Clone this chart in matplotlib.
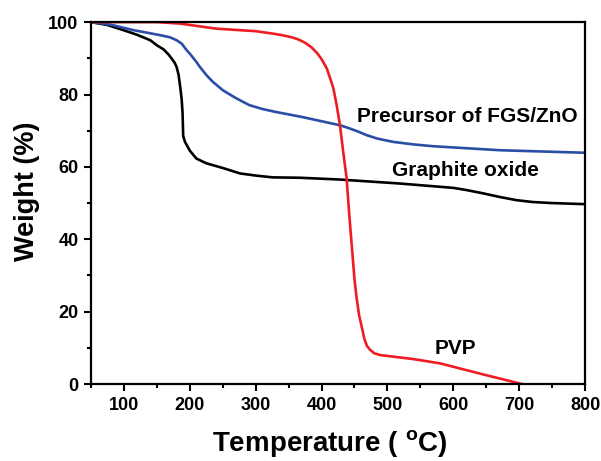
import matplotlib
matplotlib.use("Agg")
import matplotlib.pyplot as plt
from matplotlib.ticker import MultipleLocator

plt.rcParams['font.family'] = ['Liberation Sans', 'DejaVu Sans']
plt.rcParams['font.weight'] = 'bold'
plt.rcParams['mathtext.fontset'] = 'custom'
plt.rcParams['mathtext.rm'] = 'Liberation Sans:bold'
plt.rcParams['mathtext.bf'] = 'Liberation Sans:bold'
plt.rcParams['mathtext.it'] = 'Liberation Sans:bold'

# TGA curves: temperature (°C) vs. remaining weight (%)
go_temp = [50, 75, 99, 120, 140, 150, 160, 168, 173, 177, 180, 183, 185.5, 187.5,
           189, 190, 192.7, 200, 210, 225, 250, 276, 300, 326, 367, 428, 519,
           600, 620, 645, 670, 696, 720, 750, 800]
go_weight = [100, 99.2, 97.8, 96.5, 95, 93.6, 92.5, 91, 89.8, 88.8, 87.6, 85.4, 82,
             79, 75, 68.5, 66.9, 64.5, 62.3, 61, 59.7, 58.2, 57.6, 57.1, 57, 56.5,
             55.4, 54.2, 53.6, 52.7, 51.7, 50.8, 50.3, 50.0, 49.7]

pre_temp = [50, 80, 114, 155, 170, 180, 188, 195, 200, 210, 215, 225, 235, 250,
            270, 290, 310, 330, 370, 428, 440, 455, 468, 485, 509, 540, 570, 671, 800]
pre_weight = [100, 99.3, 97.8, 96.4, 95.8, 95, 94, 92.3, 91.3, 89, 87.7, 85.4, 83.5,
              81.2, 79, 77.1, 76, 75.2, 73.8, 71.5, 70.8, 69.8, 68.8, 67.8, 66.9,
              66.2, 65.7, 64.6, 63.9]

pvp_temp = [50, 150, 185, 240, 300, 327, 340, 355, 365, 375, 385, 393, 400, 408,
            413, 418, 423, 428, 433, 438, 442, 446, 450, 453, 457, 461, 465, 469,
            474, 480, 489, 539, 580, 640, 704]
pvp_weight = [100, 100, 99.6, 98.2, 97.5, 96.8, 96.4, 95.8, 95.2, 94.3, 93, 91.5,
              89.8, 87.2, 84.5, 81.7, 77, 71.5, 64, 57, 47, 38, 29, 24.1, 19, 15.8,
              12.5, 10.5, 9.4, 8.5, 8.0, 6.9, 5.7, 2.9, 0]

labels = ["Precursor of FGS/ZnO", "Graphite oxide", "PVP"]
label_pos = [(622, 73.8), (619, 59.1), (604, 9.9)]

fig = plt.figure(figsize=(6.01, 4.61), dpi=100)
ax = fig.add_axes([0.1514, 0.167, 0.822, 0.785])

lw = 1.9
ax.plot(go_temp, go_weight, color='black', lw=lw)
ax.plot(pre_temp, pre_weight, color='#2a4da6', lw=lw)
ax.plot(pvp_temp, pvp_weight, color='#ee1d23', lw=lw)

for text, (x, y) in zip(labels, label_pos):
    ax.text(x, y, text, ha='center', va='center', fontsize=15, fontweight='bold')

ax.set_xlim(50, 800)
ax.set_ylim(0, 100)
ax.xaxis.set_major_locator(MultipleLocator(100))
ax.xaxis.set_minor_locator(MultipleLocator(50))
ax.yaxis.set_major_locator(MultipleLocator(20))
ax.yaxis.set_minor_locator(MultipleLocator(10))
ax.tick_params(which='both', direction='out', width=1.5, top=False, right=False,
               labelsize=13)
ax.tick_params(which='major', length=5, pad=4)
ax.tick_params(which='minor', length=3)
for lab in ax.get_xticklabels() + ax.get_yticklabels():
    lab.set_fontweight('bold')
for sp in ax.spines.values():
    sp.set_linewidth(1.6)

ax.set_xlabel("Temperature ( $^{o}$C)", fontsize=20, fontweight='bold')
ax.set_ylabel("Weight (%)", fontsize=19.5, fontweight='bold')
ax.xaxis.set_label_coords(0.484, -0.122)
ax.yaxis.set_label_coords(-0.104, 0.533)

fig.savefig("out.png", dpi=100)
